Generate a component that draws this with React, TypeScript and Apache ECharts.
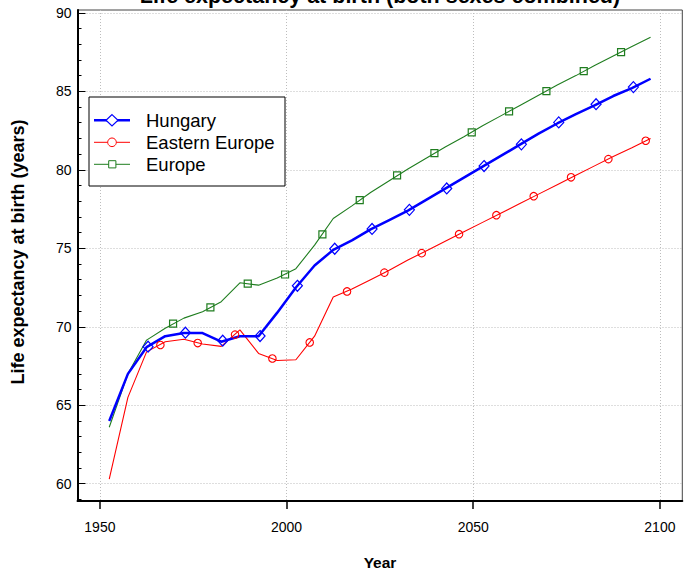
import React, { useEffect, useRef } from "react";
import * as echarts from "echarts";

// ---- data ----
const years = [
  1952.5, 1957.5, 1962.5, 1967.5, 1972.5, 1977.5, 1982.5, 1987.5, 1992.5, 1997.5,
  2002.5, 2007.5, 2012.5, 2017.5, 2022.5, 2027.5, 2032.5, 2037.5, 2042.5, 2047.5,
  2052.5, 2057.5, 2062.5, 2067.5, 2072.5, 2077.5, 2082.5, 2087.5, 2092.5, 2097.5,
];
const hungary = [
  64.0, 67.0, 68.7, 69.4, 69.6, 69.6, 69.05, 69.4, 69.4, 70.9,
  72.5, 73.9, 74.9, 75.5, 76.2, 76.8, 77.4, 78.1, 78.8, 79.5,
  80.2, 80.9, 81.6, 82.3, 82.95, 83.55, 84.1, 84.7, 85.2, 85.8,
];
const easternEurope = [
  60.3, 65.5, 68.4, 69.05, 69.2, 68.9, 68.75, 69.8, 68.3, 67.85,
  67.9, 69.4, 71.9, 72.4, 73.0, 73.6, 74.25, 74.85, 75.45, 76.05,
  76.65, 77.25, 77.85, 78.45, 79.05, 79.65, 80.25, 80.85, 81.4, 82.0,
];
const europe = [
  63.6, 67.0, 69.15, 69.9, 70.55, 70.95, 71.6, 72.8, 72.65, 73.1,
  73.7, 75.2, 76.9, 77.7, 78.55, 79.3, 80.05, 80.75, 81.45, 82.1,
  82.8, 83.45, 84.1, 84.75, 85.4, 86.0, 86.65, 87.25, 87.85, 88.45,
];

// marker positions along the lines
const hungaryMarkerYears = [
  1962.9, 1972.9, 1982.9, 1992.9, 2002.9, 2012.9, 2022.9, 2032.9, 2042.9, 2052.9,
  2062.9, 2072.9, 2082.9, 2092.9,
];
const hungaryMarkerValues = [
  68.73, 69.62, 69.11, 69.41, 72.61, 74.97, 76.23, 77.45, 78.81, 80.24,
  81.62, 83.02, 84.18, 85.27,
];
const easternMarkerYears = [
  1966.2, 1976.2, 1986.2, 1996.2, 2006.2, 2016.2, 2026.2, 2036.2, 2046.2, 2056.2,
  2066.2, 2076.2, 2086.2, 2096.2,
];
const easternMarkerValues = [
  68.84, 68.96, 69.5, 67.98, 69.0, 72.25, 73.45, 74.69, 75.9, 77.11,
  78.32, 79.52, 80.68, 81.85,
];
const europeMarkerYears = [
  1969.6, 1979.6, 1989.6, 1999.6, 2009.6, 2019.6, 2029.6, 2039.6, 2049.6, 2059.6,
  2069.6, 2079.6, 2089.6,
];
const europeMarkerValues = [
  70.2, 71.23, 72.75, 73.33, 75.88, 78.07, 79.64, 81.06, 82.38, 83.72,
  85.01, 86.29, 87.5,
];

const xTicks = [1950, 2000, 2050, 2100];
const yTicks = [60, 65, 70, 75, 80, 85, 90];
const yMinorTicks = [
  59, 60, 61, 62, 63, 64, 65, 66, 67, 68, 69, 70, 71, 72, 73, 74, 75, 76, 77, 78,
  79, 80, 81, 82, 83, 84, 85, 86, 87, 88, 89, 90,
];

const seriesNames = ["Hungary", "Eastern Europe", "Europe"];
const titleText = "Life expectancy at birth (both sexes combined)";
const xTitle = "Year";
const yTitle = "Life expectancy at birth (years)";

const BLUE = "#0000ff";
const RED = "#ff0000";
const GREEN = "#1f7d1f";
const FONT = "'Liberation Sans', Arial, Helvetica, sans-serif";

const pairs = (xs: number[], ys: number[]) => xs.map((x, i) => [x, ys[i]]);

export default function App() {
  const ref = useRef<HTMLDivElement>(null);

  useEffect(() => {
    if (!ref.current) return;
    const chart = echarts.init(ref.current, undefined, { renderer: "svg" });

    const yMin = 58.9;
    const yMax = 90.18;
    const gridLine = { show: true, lineStyle: { type: [1, 2], color: "#bdbdbd", width: 1 } };

    const legendRows = [
      { name: seriesNames[0], color: BLUE, width: 2.5, sym: "diamond" },
      { name: seriesNames[1], color: RED, width: 1, sym: "circle" },
      { name: seriesNames[2], color: GREEN, width: 1, sym: "square" },
    ];
    const legendEls: any[] = [
      {
        type: "rect",
        shape: { x: 89, y: 97, width: 196, height: 89 },
        style: { fill: "#fff", stroke: "#000", lineWidth: 1 },
        z: 100,
      },
    ];
    legendRows.forEach((r, i) => {
      const cy = 120.3 + 22 * i;
      legendEls.push({
        type: "line",
        shape: { x1: 94, y1: cy, x2: 130, y2: cy },
        style: { stroke: r.color, lineWidth: r.width },
        z: 101,
      });
      if (r.sym === "diamond") {
        legendEls.push({
          type: "polygon",
          shape: { points: [[112, cy - 5.7], [118, cy], [112, cy + 5.7], [106, cy]] },
          style: { fill: "#fff", stroke: r.color, lineWidth: 1.2 },
          z: 102,
        });
      } else if (r.sym === "circle") {
        legendEls.push({
          type: "circle",
          shape: { cx: 112, cy, r: 4.3 },
          style: { fill: "#fff", stroke: r.color, lineWidth: 1 },
          z: 102,
        });
      } else {
        legendEls.push({
          type: "rect",
          shape: { x: 108.7, y: cy - 3.6, width: 7.2, height: 7.2 },
          style: { fill: "#fff", stroke: r.color, lineWidth: 1 },
          z: 102,
        });
      }
      legendEls.push({
        type: "text",
        x: 146,
        y: cy,
        style: {
          text: r.name,
          font: `18.5px ${FONT}`,
          fill: "#000",
          textAlign: "left",
          textVerticalAlign: "middle",
        },
        z: 102,
      });
    });

    const lineSeries = (name: string, vals: number[], color: string, width: number, z: number) => ({
      name,
      type: "line",
      data: pairs(years, vals),
      symbol: "none",
      showSymbol: false,
      lineStyle: { color, width },
      itemStyle: { color },
      z,
    });
    const markerSeries = (
      name: string,
      xs: number[],
      ys: number[],
      color: string,
      symbol: string,
      size: any,
      bw: number,
      z: number
    ) => ({
      name,
      type: "scatter",
      data: pairs(xs, ys),
      symbol,
      symbolSize: size,
      itemStyle: { color: "rgba(0,0,0,0)", borderColor: color, borderWidth: bw, opacity: 1 },
      z,
    });

    chart.setOption({
      animation: false,
      backgroundColor: "#fff",
      textStyle: { fontFamily: FONT },
      grid: {
        left: 77.5,
        right: 12.7,
        top: 10,
        bottom: 71,
        show: true,
        borderColor: "#444",
        borderWidth: 1,
        backgroundColor: "transparent",
      },
      xAxis: {
        type: "value",
        min: 1944,
        max: 2106,
        axisLine: { show: true, onZero: false, lineStyle: { color: "#000", width: 2 } },
        axisTick: { show: true, customValues: xTicks, length: 8, lineStyle: { color: "#000", width: 1.5 } },
        axisLabel: {
          customValues: xTicks,
          margin: 19,
          fontSize: 14,
          color: "#000",
          fontFamily: FONT,
          formatter: (v: number) => String(v),
        },
        splitLine: gridLine,
      },
      yAxis: [
        {
          type: "value",
          min: yMin,
          max: yMax,
          position: "left",
          axisLine: { show: true, onZero: false, lineStyle: { color: "#000", width: 2 } },
          axisTick: { show: true, inside: true, length: 8, customValues: yTicks, lineStyle: { color: "#000", width: 1 } },
          axisLabel: {
            customValues: yTicks,
            margin: 6,
            fontSize: 14,
            color: "#000",
            fontFamily: FONT,
            formatter: (v: number) => String(v),
          },
          splitLine: gridLine,
        },
        {
          type: "value",
          min: yMin,
          max: yMax,
          position: "left",
          offset: 0,
          axisLine: { show: false },
          axisTick: { show: true, inside: true, length: 4, customValues: yMinorTicks, lineStyle: { color: "#000", width: 1 } },
          axisLabel: { show: false },
          splitLine: { show: false },
        },
      ],
      series: [
        lineSeries(seriesNames[2], europe, GREEN, 1.1, 2),
        lineSeries(seriesNames[1], easternEurope, RED, 1.1, 3),
        lineSeries(seriesNames[0], hungary, BLUE, 2.5, 4),
        markerSeries("Europe markers", europeMarkerYears, europeMarkerValues, GREEN, "rect", 7, 1.2, 5),
        markerSeries("Eastern Europe markers", easternMarkerYears, easternMarkerValues, RED, "circle", 7.5, 1.1, 5),
        markerSeries("Hungary markers", hungaryMarkerYears, hungaryMarkerValues, BLUE, "diamond", [10, 11], 1.2, 6),
      ],
      graphic: [
        {
          type: "text",
          x: 380,
          y: -4.5,
          style: {
            text: titleText,
            font: `bold 21.5px ${FONT}`,
            fill: "#000",
            textAlign: "center",
            textVerticalAlign: "middle",
          },
          z: 100,
        },
        {
          type: "text",
          x: 380,
          y: 562,
          style: {
            text: xTitle,
            font: `bold 15.5px ${FONT}`,
            fill: "#000",
            textAlign: "center",
            textVerticalAlign: "middle",
          },
          z: 100,
        },
        {
          type: "text",
          x: 18,
          y: 252,
          rotation: Math.PI / 2,
          style: {
            text: yTitle,
            font: `bold 18px ${FONT}`,
            fill: "#000",
            textAlign: "center",
            textVerticalAlign: "middle",
          },
          z: 100,
        },
        ...legendEls,
      ],
    });

    return () => chart.dispose();
  }, []);

  return (
    <div
      ref={ref}
      style={{ position: "absolute", left: 0, top: 0, width: 695, height: 572 }}
    />
  );
}
